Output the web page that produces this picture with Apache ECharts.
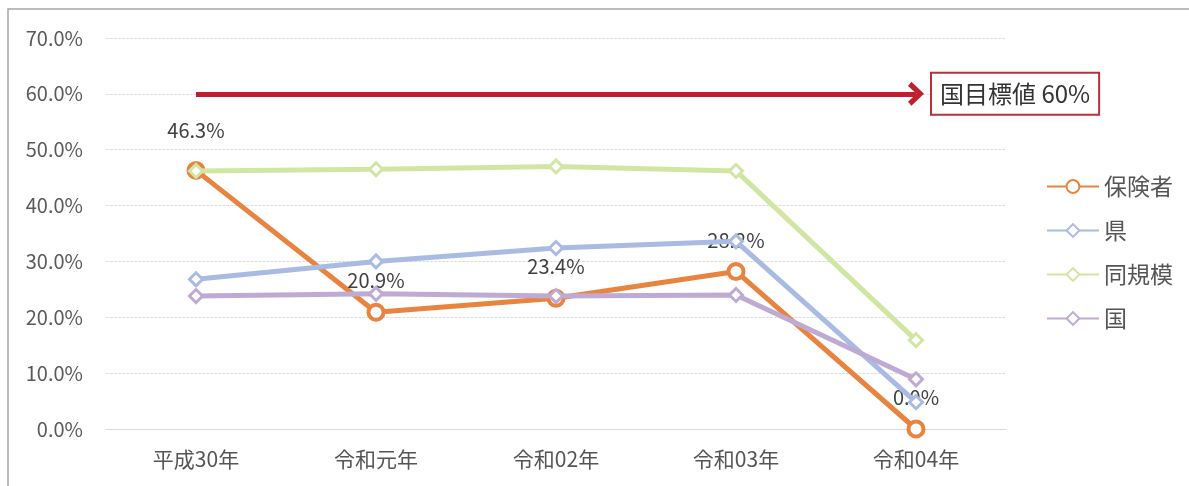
<!DOCTYPE html>
<html><head><meta charset="utf-8">
<script src="https://cdn.jsdelivr.net/npm/echarts@6/dist/echarts.min.js"></script>
<style>html,body{margin:0;padding:0;background:#fff}#c{width:1189px;height:486px}</style>
</head><body><div id="c"></div>
<script>
const categories = ['平成30年','令和元年','令和02年','令和03年','令和04年'];
const hokensha = [46.3, 20.9, 23.4, 28.2, 0.0];
const ken = [26.8, 30.0, 32.4, 33.6, 4.8];
const doukibo = [46.2, 46.5, 47.0, 46.2, 15.9];
const kuni = [23.8, 24.2, 23.8, 24.0, 8.9];
const targetValue = 60;
const targetLabel = '国目標値 60%';
const yTicks = {min: 0, max: 70, interval: 10};

const font = 'Noto Sans CJK JP';
const chart = echarts.init(document.getElementById('c'));
function diamondSeries(name, data, color, z) {
  return {
    name, type: 'line', data, z,
    symbol: 'diamond', symbolSize: 13,
    lineStyle: {color, width: 5},
    itemStyle: {color: '#fff', borderColor: color, borderWidth: 3},
    emphasis: {disabled: true}
  };
}
chart.setOption({
  animation: false,
  textStyle: {fontFamily: font},
  graphic: [{type: 'rect', shape: {x: 8, y: 9, width: 1300, height: 600}, style: {fill: 'none', stroke: '#a6a6a6', lineWidth: 1.5}, silent: true}],
  grid: {left: 106, right: 183, top: 38, bottom: 57},
  legend: {
    orient: 'vertical', right: 11, top: 170,
    itemWidth: 52, itemHeight: 16, itemGap: 21,
    textStyle: {fontSize: 23, color: '#555', fontFamily: font},
    data: ['保険者', '県', '同規模', '国']
  },
  xAxis: {
    type: 'category', data: categories, boundaryGap: true,
    axisLine: {show: true, lineStyle: {color: '#d9d9d9'}},
    axisTick: {show: false},
    axisLabel: {fontSize: 21, color: '#555', margin: 20, fontFamily: font}
  },
  yAxis: {
    type: 'value', min: yTicks.min, max: yTicks.max, interval: yTicks.interval,
    axisLine: {show: false}, axisTick: {show: false},
    axisLabel: {fontSize: 20, color: '#595959', margin: 23, formatter: v => v.toFixed(1) + '%', fontFamily: font},
    splitLine: {lineStyle: {color: '#dedede', type: [3, 1]}}
  },
  series: [
    {
      name: '保険者', type: 'line', z: 2,
      data: hokensha.map((v, i) => i === 0 ? {value: v, label: {distance: 20}} : v),
      symbol: 'circle', symbolSize: 15,
      lineStyle: {color: '#e8843f', width: 5},
      itemStyle: {color: '#fff', borderColor: '#e8843f', borderWidth: 4},
      label: {show: true, position: 'top', distance: 12, fontSize: 20, color: '#404040',
              formatter: p => p.value.toFixed(1) + '%'},
      emphasis: {disabled: true},
      markLine: {
        silent: true, symbol: ['none', 'path://M10,0 L20,11 L16.5,14 L10,6.5 L3.5,14 L0,11 Z'],
        symbolSize: [24, 16],
        lineStyle: {color: '#c21f2e', width: 5, type: 'solid'},
        label: {
          show: true, position: 'end', distance: 16, formatter: targetLabel,
          fontSize: 24, color: '#333', fontFamily: font,
          borderColor: '#b8303b', borderWidth: 2, padding: [9, 8, 7, 8], backgroundColor: '#fff'
        },
        data: [[{coord: [0, targetValue]}, {coord: [4, targetValue]}]]
      }
    },
    diamondSeries('県', ken, '#a9bbe2', 3),
    diamondSeries('同規模', doukibo, '#d2e6a3', 4),
    diamondSeries('国', kuni, '#bfaad3', 5)
  ]
});
</script></body></html>
